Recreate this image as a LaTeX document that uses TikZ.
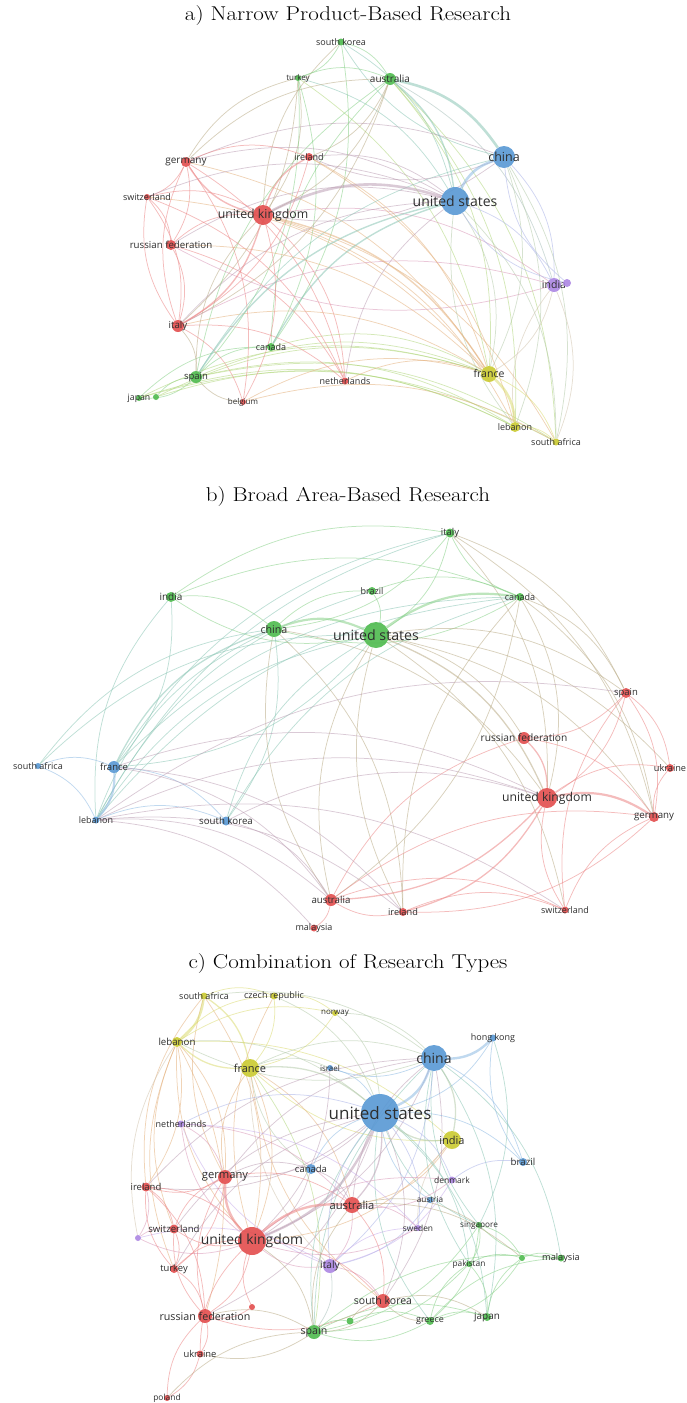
\documentclass[tikz,border=0pt]{standalone}
\usepackage{fontspec}
\newfontfamily\osans{Open Sans}
\pgfdeclarelayer{bg}
\pgfsetlayers{bg,main}
\definecolor{cR}{RGB}{226,76,76}
\definecolor{cG}{RGB}{78,186,78}
\definecolor{cB}{RGB}{88,152,212}
\definecolor{cY}{RGB}{202,202,48}
\definecolor{cP}{RGB}{172,134,226}
\tikzset{
  dot/.style={circle, inner sep=0pt, draw=none, fill opacity=0.9},
  lbl/.style={inner sep=0pt, text=black!82},
  ttl/.style={font=\fontsize{20}{24}\selectfont, inner sep=0pt, xscale=1.15},
}
% node: name, x, y, radius, colour, label size, label
\newcommand\nd[7]{%
  \expandafter\xdef\csname nc#1\endcsname{#5}%
  \node[dot, minimum size={2*#4pt}, fill=#5] (#1) at (#2,#3) {};
  \node[lbl, font={\osans\fontsize{#6}{#6}\selectfont}] (#1-t) at (#1.center) {#7};}
% unlabelled node
\newcommand\ndx[5]{%
  \expandafter\xdef\csname nc#1\endcsname{#5}%
  \node[dot, minimum size={2*#4pt}, fill=#5] (#1) at (#2,#3) {};}
% links: width, opacity, list of pairs
\newcommand\links[3]{%
  \begin{pgfonlayer}{bg}
  \foreach \a/\b in {#3} {
    \colorlet{ecol}{\csname nc\a\endcsname!50!\csname nc\b\endcsname}
    \draw[draw=ecol!68!white, line width=#1pt, draw opacity=#2] (\a) to[bend left=22] (\b);
  }
  \end{pgfonlayer}}
\begin{document}
\begin{tikzpicture}[x=1pt, y=-1pt]
\useasboundingbox (0,0) rectangle (686,1403);

% ---------------- a) ----------------
\node[ttl] (ta) at (348,16) {a) Narrow Product-Based Research};
\nd{a-sk}{341}{42}{3.5}{cG}{9}{south korea}
\nd{a-tr}{298}{78}{3}{cG}{8}{turkey}
\nd{a-au}{390}{79}{6}{cG}{10}{australia}
\nd{a-cn}{504}{157}{11}{cB}{12.5}{china}
\nd{a-de}{186}{162}{5}{cR}{10}{germany}
\nd{a-ie}{309}{157}{4}{cR}{9}{ireland}
\nd{a-ch}{147}{197}{3}{cR}{9}{switzerland}
\nd{a-us}{455}{201}{14}{cB}{14}{united states}
\nd{a-uk}{263}{215}{10}{cR}{12.3}{united kingdom}
\nd{a-ru}{171}{245}{5}{cR}{9.7}{russian federation}
\nd{a-in}{554}{285}{7}{cP}{10.5}{india}
\ndx{a-inx}{567}{283}{4}{cP}
\nd{a-it}{178}{326}{6}{cR}{9.7}{italy}
\nd{a-ca}{271}{347}{4}{cG}{9}{canada}
\nd{a-es}{196}{377}{6}{cG}{9.5}{spain}
\nd{a-fr}{489}{374}{8}{cY}{10.5}{france}
\nd{a-nl}{345}{381}{3.5}{cR}{9}{netherlands}
\nd{a-jp}{139}{398}{3}{cG}{8.7}{japan}
\ndx{a-jx}{156}{397}{3}{cG}
\nd{a-be}{243}{402}{3}{cR}{8}{belgium}
\nd{a-lb}{515}{427}{5}{cY}{9}{lebanon}
\nd{a-za}{556}{442}{3.5}{cY}{9}{south africa}

\links{0.75}{0.55}{a-sk/a-tr, a-sk/a-au, a-cn/a-sk, a-sk/a-us, a-uk/a-sk, a-sk/a-ca,
 a-tr/a-au, a-tr/a-uk, a-de/a-tr, a-tr/a-ca, a-tr/a-es, a-tr/a-us, a-tr/a-fr, a-tr/a-it,
 a-au/a-uk, a-de/a-au, a-au/a-ie, a-au/a-fr, a-au/a-lb, a-au/a-in, a-au/a-za, a-es/a-au, a-ca/a-au, a-au/a-it,
 a-es/a-ca, a-jp/a-ca, a-ca/a-fr, a-jx/a-es, a-es/a-jp, a-it/a-es, a-es/a-uk, a-es/a-fr, a-es/a-lb, a-es/a-za,
 a-jp/a-za, a-jx/a-fr, a-jx/a-lb, a-be/a-es, a-be/a-za, a-jp/a-lb,
 a-ch/a-uk, a-ru/a-uk, a-uk/a-nl, a-uk/a-be, a-cn/a-uk, a-uk/a-lb, a-uk/a-za, a-uk/a-in,
 a-de/a-ch, a-de/a-ru, a-it/a-de, a-de/a-us, a-de/a-cn, a-de/a-ie, a-de/a-fr, a-de/a-nl, a-de/a-be,
 a-ch/a-ru, a-it/a-ch, a-ch/a-us, a-ch/a-fr, a-ch/a-nl, a-ch/a-it,
 a-ru/a-it, a-ru/a-us, a-in/a-ru, a-ru/a-fr, a-ru/a-nl,
 a-it/a-us, a-it/a-fr, a-it/a-be, a-it/a-nl, a-ie/a-fr, a-ie/a-us, a-ie/a-lb, a-ie/a-it, a-nl/a-fr, a-nl/a-us, a-be/a-fr,
 a-us/a-in, a-us/a-fr, a-lb/a-us, a-us/a-za, a-cn/a-in, a-cn/a-fr, a-cn/a-lb, a-cn/a-za, a-es/a-cn, a-cn/a-ie,
 a-in/a-fr, a-lb/a-in, a-in/a-za, a-inx/a-us, a-inx/a-cn, a-it/a-in,
 a-fr/a-za, a-lb/a-za, a-jp/a-fr}
\links{1.4}{0.55}{a-au/a-us, a-uk/a-fr, a-uk/a-de, a-uk/a-ie, a-uk/a-it, a-ca/a-us, a-es/a-us}
\links{2.6}{0.55}{a-uk/a-us, a-us/a-cn, a-au/a-cn, a-fr/a-lb}

% ---------------- b) ----------------
\node[ttl] (tb) at (348,497) {b) Broad Area-Based Research};
\nd{b-it}{450}{533}{4.5}{cG}{9.5}{italy}
\nd{b-br}{372}{591}{4}{cG}{9}{brazil}
\nd{b-in}{171}{597}{5}{cG}{10}{india}
\nd{b-ca}{520}{597}{4}{cG}{9}{canada}
\nd{b-cn}{274}{629}{8}{cG}{10.7}{china}
\nd{b-us}{376}{635}{13}{cG}{14.2}{united states}
\nd{b-es}{626}{693}{5}{cR}{9.5}{spain}
\nd{b-ru}{524}{738}{6}{cR}{10.2}{russian federation}
\nd{b-za}{38}{766}{3}{cB}{9}{south africa}
\nd{b-fr}{114}{767}{6}{cB}{9.5}{france}
\nd{b-ua}{670}{768}{4}{cR}{9.2}{ukraine}
\nd{b-uk}{547}{798}{10}{cR}{12.2}{united kingdom}
\nd{b-de}{654}{817}{5}{cR}{9.7}{germany}
\nd{b-lb}{96}{820}{3.5}{cB}{9}{lebanon}
\nd{b-kr}{226}{821}{4.5}{cB}{9.7}{south korea}
\nd{b-au}{331}{900}{6}{cR}{9.7}{australia}
\nd{b-ie}{403}{912}{4}{cR}{9.2}{ireland}
\nd{b-ch}{565}{910}{3.5}{cR}{9}{switzerland}
\nd{b-my}{314}{928}{3.5}{cR}{9}{malaysia}

\links{0.75}{0.55}{b-in/b-it, b-in/b-cn, b-us/b-in, b-in/b-fr, b-lb/b-in, b-in/b-ca,
 b-it/b-us, b-ca/b-it, b-it/b-es, b-it/b-uk, b-lb/b-it, b-it/b-de, b-it/b-cn,
 b-br/b-us, b-br/b-ca, b-cn/b-br, b-lb/b-br,
 b-ca/b-cn, b-ca/b-uk, b-ca/b-es, b-ca/b-de, b-ie/b-ca, b-ca/b-au, b-lb/b-ca, b-kr/b-ca,
 b-lb/b-cn, b-cn/b-kr, b-au/b-cn, b-cn/b-ie, b-cn/b-uk, b-za/b-cn,
 b-us/b-fr, b-lb/b-us, b-us/b-es, b-us/b-ru, b-au/b-us, b-ie/b-us, b-us/b-ch, b-us/b-de, b-kr/b-us, b-us/b-ua, b-za/b-us,
 b-fr/b-it, b-fr/b-ca,
 b-es/b-uk, b-es/b-de, b-es/b-ua, b-ch/b-es, b-lb/b-es, b-es/b-ru,
 b-au/b-ru, b-ru/b-de,
 b-uk/b-ua, b-ch/b-uk, b-fr/b-uk, b-kr/b-uk, b-lb/b-uk,
 b-de/b-ua, b-ch/b-de, b-au/b-de, b-de/b-ie,
 b-za/b-fr, b-fr/b-kr, b-fr/b-ie, b-fr/b-au, b-za/b-lb,
 b-lb/b-kr, b-lb/b-au, b-lb/b-ch, b-lb/b-my, b-lb/b-ie,
 b-au/b-my, b-ie/b-au, b-au/b-ch, b-ie/b-ch, b-kr/b-au}
\links{1.3}{0.55}{b-uk/b-au, b-uk/b-ie, b-us/b-uk, b-ru/b-uk, b-fr/b-cn}
\links{2.2}{0.55}{b-cn/b-us, b-us/b-ca, b-fr/b-lb, b-uk/b-de}

% ---------------- c) ----------------
\node[ttl] (tc) at (348,963) {c) Combination of Research Types};
\nd{c-za}{204}{996}{3.5}{cY}{9}{south africa}
\nd{c-cz}{274}{996}{3.5}{cY}{9}{czech republic}
\nd{c-no}{335}{1013}{3}{cY}{8}{norway}
\nd{c-lb}{177}{1042}{5}{cY}{9.7}{lebanon}
\nd{c-hk}{493}{1038}{3.5}{cB}{9}{hong kong}
\nd{c-cn}{434}{1058}{13}{cB}{14}{china}
\nd{c-fr}{250}{1068}{9}{cY}{11}{france}
\nd{c-il}{330}{1068}{3}{cB}{8}{israel}
\nd{c-us}{380}{1113}{19}{cB}{17}{united states}
\nd{c-nl}{181}{1124}{3.5}{cP}{9}{netherlands}
\nd{c-in}{452}{1140}{9}{cY}{11}{india}
\nd{c-br}{523}{1162}{4}{cB}{9.7}{brazil}
\nd{c-ca}{311}{1169}{5}{cB}{9.5}{canada}
\nd{c-de}{225}{1177}{7}{cR}{11.2}{germany}
\nd{c-ie}{146}{1187}{4.5}{cR}{9.5}{ireland}
\nd{c-dk}{452}{1180}{3.5}{cP}{8.5}{denmark}
\nd{c-au}{352}{1205}{8}{cR}{11.2}{australia}
\nd{c-at}{430}{1200}{3}{cB}{8.2}{austria}
\nd{c-sg}{479}{1225}{3}{cG}{8.2}{singapore}
\nd{c-se}{418}{1228}{3}{cP}{8.4}{sweden}
\nd{c-ch}{174}{1229}{4.5}{cR}{9.6}{switzerland}
\ndx{c-px}{138}{1238}{3}{cP}
\nd{c-uk}{252}{1241}{14}{cR}{13.9}{united kingdom}
\nd{c-my}{561}{1258}{3.5}{cG}{9.2}{malaysia}
\ndx{c-gx}{522}{1258}{3}{cG}
\nd{c-it}{330}{1266}{7}{cP}{10.2}{italy}
\nd{c-pk}{469}{1264}{3}{cG}{8.3}{pakistan}
\nd{c-tr}{174}{1269}{4}{cR}{9.4}{turkey}
\nd{c-kr}{383}{1301}{7}{cR}{10.5}{south korea}
\ndx{c-rx}{252}{1307}{3}{cR}
\nd{c-ru}{205}{1316}{7}{cR}{10.7}{russian federation}
\ndx{c-gy}{350}{1321}{3.5}{cG}
\nd{c-gr}{430}{1321}{4}{cG}{9}{greece}
\nd{c-jp}{487}{1317}{4}{cG}{9.9}{japan}
\nd{c-es}{314}{1332}{7}{cG}{10.6}{spain}
\nd{c-ua}{200}{1354}{3.5}{cR}{9.4}{ukraine}
\nd{c-pl}{167}{1398}{3}{cR}{8.4}{poland}

\links{0.75}{0.55}{c-za/c-cz, c-de/c-za, c-za/c-uk, c-ie/c-za, c-cz/c-fr, c-lb/c-cz, c-cz/c-no, c-cz/c-us, c-uk/c-cz,
 c-no/c-fr, c-lb/c-no, c-no/c-us, c-no/c-cn, c-lb/c-us, c-cn/c-lb, c-lb/c-in, c-lb/c-de, c-uk/c-lb, c-lb/c-ie, c-ch/c-lb, c-lb/c-ru,
 c-tr/c-lb, c-px/c-lb, c-ie/c-cn, c-za/c-cn,
 c-fr/c-cn, c-in/c-fr, c-fr/c-uk, c-de/c-fr, c-fr/c-au, c-it/c-fr, c-fr/c-es, c-ca/c-fr, c-fr/c-il, c-kr/c-fr,
 c-in/c-uk, c-in/c-au, c-se/c-in,
 c-cn/c-uk, c-au/c-cn, c-cn/c-br, c-sg/c-cn, c-cn/c-my, c-pk/c-cn, c-cn/c-jp, c-es/c-cn, c-cn/c-it, c-de/c-cn, c-cn/c-kr,
 c-hk/c-us, c-br/c-hk, c-hk/c-sg, c-il/c-us, c-cn/c-il, c-il/c-uk,
 c-us/c-de, c-ca/c-us, c-us/c-br, c-it/c-us, c-us/c-kr, c-es/c-us, c-us/c-ru, c-nl/c-us, c-us/c-ie, c-ch/c-us, c-us/c-dk,
 c-at/c-us, c-us/c-se, c-sg/c-us, c-us/c-pk, c-gr/c-us, c-us/c-jp, c-tr/c-us,
 c-ca/c-uk, c-de/c-ca, c-ca/c-au, c-dk/c-br, c-at/c-it,
 c-nl/c-de, c-uk/c-nl, c-nl/c-au, c-it/c-nl, c-nl/c-se, c-px/c-ch, c-uk/c-px, c-px/c-it, c-ie/c-px,
 c-it/c-uk, c-dk/c-it, c-it/c-se, c-au/c-it, c-it/c-kr, c-dk/c-au, c-se/c-uk, c-au/c-se, c-uk/c-dk,
 c-ie/c-uk, c-uk/c-ch, c-tr/c-uk, c-uk/c-ru, c-uk/c-kr, c-rx/c-uk, c-uk/c-es, c-ua/c-uk,
 c-de/c-ie, c-ch/c-de, c-de/c-tr, c-ru/c-de, c-de/c-au, c-ie/c-ch, c-tr/c-ie, c-ie/c-ru, c-ch/c-tr, c-ru/c-ch, c-tr/c-ru,
 c-ru/c-ua, c-pl/c-ru, c-ua/c-pl, c-ru/c-es, c-kr/c-ru, c-au/c-kr, c-es/c-au, c-au/c-sg, c-kr/c-es, c-gr/c-kr, c-kr/c-jp,
 c-gy/c-kr, c-rx/c-ru, c-pl/c-es,
 c-es/c-gy, c-gr/c-es, c-es/c-jp, c-sg/c-es, c-es/c-my, c-pk/c-es, c-gy/c-gr, c-gr/c-jp, c-sg/c-gr, c-gr/c-my,
 c-gx/c-gr, c-jp/c-gx, c-pk/c-jp, c-sg/c-gx, c-my/c-sg, c-gx/c-my, c-pk/c-gx, c-gr/c-pk, c-sg/c-pk, c-it/c-es,
 c-au/c-gx, c-es/c-ua}
\links{1.3}{0.55}{c-fr/c-us, c-in/c-us, c-us/c-au, c-cn/c-in, c-za/c-fr, c-fr/c-lb}
\links{2.4}{0.55}{c-cn/c-us, c-hk/c-cn, c-us/c-uk, c-uk/c-de, c-uk/c-au, c-za/c-lb}
\end{tikzpicture}
\end{document}
